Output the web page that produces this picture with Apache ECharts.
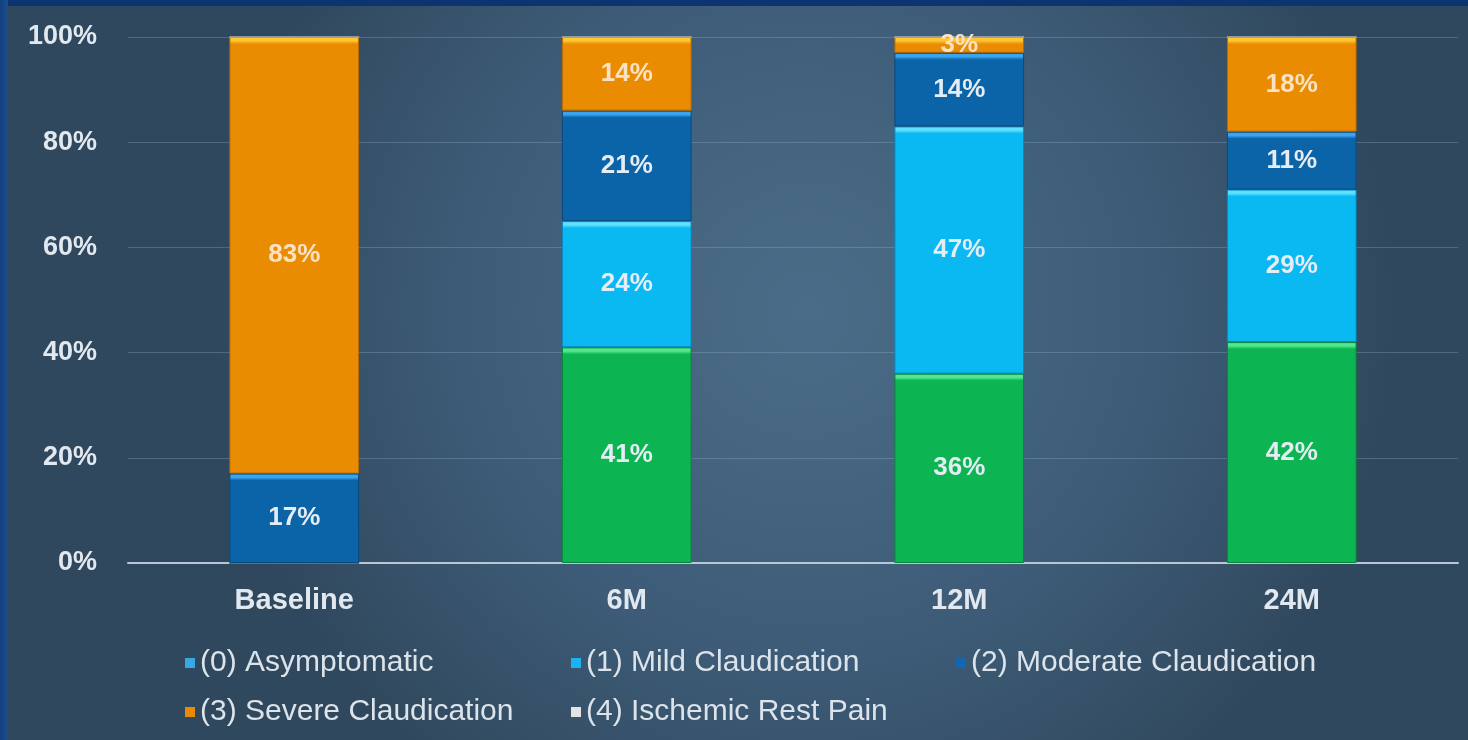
<!DOCTYPE html>
<html>
<head>
<meta charset="utf-8">
<script src="https://cdn.jsdelivr.net/npm/echarts@6/dist/echarts.min.js"></script>
<style>
  html, body { margin: 0; padding: 0; background: #34506a; }
  #chart { width: 1468px; height: 740px; }
</style>
</head>
<body>
<div id="chart"></div>
<script>
// Claudication class distribution over follow-up (percent of patients)
const categories = ['Baseline', '6M', '12M', '24M'];
const asymptomatic = [0, 41, 36, 42];
const mildClaudication = [0, 24, 47, 29];
const moderateClaudication = [17, 21, 14, 11];
const severeClaudication = [83, 14, 3, 18];
const ischemicRestPain = [0, 0, 0, 0];
const yTicks = [0, 20, 40, 60, 80, 100];

const seriesDefs = [
  { name: '(0) Asymptomatic', data: asymptomatic, base: '#0cb552', top: '#4fe88c', edge: '#07853c', legend: '#35a9e2', text: '#e4ecf4' },
  { name: '(1) Mild Claudication', data: mildClaudication, base: '#0ab8f2', top: '#5ee0ff', edge: '#0888c0', legend: '#1ab2f0', text: '#e4ecf4' },
  { name: '(2) Moderate Claudication', data: moderateClaudication, base: '#0b63a8', top: '#3aa4ee', edge: '#084a80', legend: '#1566b0', text: '#e4ecf4' },
  { name: '(3) Severe Claudication', data: severeClaudication, base: '#ea8c02', top: '#ffc62e', edge: '#b86a00', legend: '#e88a06', text: '#fbe2c4' },
  { name: '(4) Ischemic Rest Pain', data: ischemicRestPain, base: '#e8e8e8', top: '#ffffff', edge: '#b0b0b0', legend: '#e4e4e4', text: '#333333' }
];

const gridTop = 37, gridBottom = 177, chartHeight = 740;
const plotHeight = chartHeight - gridTop - gridBottom;
const FONT = 'Liberation Sans, Arial, sans-serif';

// Bevelled fill: a bright band along the top edge of each segment
function bevelFill(def, value) {
  const px = Math.max(1, value / 100 * plotHeight);
  const s = Math.min(0.45, 7 / px);
  return new echarts.graphic.LinearGradient(0, 0, 0, 1, [
    { offset: 0, color: def.top },
    { offset: s * 0.55, color: def.top },
    { offset: s, color: def.base },
    { offset: 1, color: def.base }
  ]);
}

const series = seriesDefs.map(def => ({
  name: def.name,
  type: 'bar',
  stack: 'total',
  barWidth: '39%',
  data: def.data.map(v => ({
    value: v,
    itemStyle: { color: bevelFill(def, v), borderColor: def.edge, borderWidth: 1 }
  })),
  label: {
    show: true,
    position: 'inside',
    color: def.text,
    fontFamily: FONT,
    fontWeight: 'bold',
    fontSize: 26,
    formatter: p => (p.value > 0 ? p.value + '%' : '')
  },
  emphasis: { disabled: true }
}));

// One legend block per entry so the entries sit in aligned columns
const legendSlots = [
  { left: 180, top: 643 },
  { left: 566, top: 643 },
  { left: 951, top: 643 },
  { left: 180, top: 692 },
  { left: 566, top: 692 }
];
const legends = seriesDefs.map((def, i) => ({
  left: legendSlots[i].left,
  top: legendSlots[i].top,
  orient: 'horizontal',
  itemWidth: 10,
  itemHeight: 10,
  icon: 'rect',
  selectedMode: false,
  data: [{ name: def.name, itemStyle: { color: def.legend, borderWidth: 0 } }],
  textStyle: {
    color: '#dbe3eb',
    fontFamily: FONT,
    fontSize: 30,
    lineHeight: 30
  }
}));

const chart = echarts.init(document.getElementById('chart'), null, { renderer: 'canvas' });
chart.setOption({
  animation: false,
  backgroundColor: new echarts.graphic.RadialGradient(0.55, 0.42, 0.8, [
    { offset: 0, color: '#4b6c88' },
    { offset: 0.6, color: '#3d5b76' },
    { offset: 1, color: '#30485d' }
  ]),
  graphic: [
    { type: 'rect', left: 0, top: 0, shape: { width: 1468, height: 6 }, style: { fill: '#0b3470' }, silent: true },
    { type: 'rect', left: 0, top: 0, shape: { width: 8, height: 740 },
      style: { fill: new echarts.graphic.LinearGradient(0, 0, 1, 0, [
        { offset: 0, color: '#123f80' }, { offset: 1, color: '#1d4f8c' }
      ]) }, silent: true }
  ],
  grid: { left: 128, right: 10, top: gridTop, bottom: gridBottom, containLabel: false },
  legend: legends,
  xAxis: {
    type: 'category',
    data: categories,
    axisLine: { show: true, lineStyle: { color: '#b7c7d7', width: 2 } },
    axisTick: { show: false },
    axisLabel: {
      color: '#e1e8ef',
      fontFamily: FONT,
      fontWeight: 'bold',
      fontSize: 29,
      margin: 23
    }
  },
  yAxis: {
    type: 'value',
    min: yTicks[0],
    max: yTicks[yTicks.length - 1],
    interval: 20,
    axisLine: { show: false },
    axisTick: { show: false },
    splitLine: { lineStyle: { color: 'rgba(160,190,215,0.28)', width: 1 } },
    axisLabel: {
      color: '#e1e8ef',
      fontFamily: FONT,
      fontWeight: 'bold',
      fontSize: 27,
      margin: 31,
      formatter: v => v + '%'
    }
  },
  series: series
});
</script>
</body>
</html>
